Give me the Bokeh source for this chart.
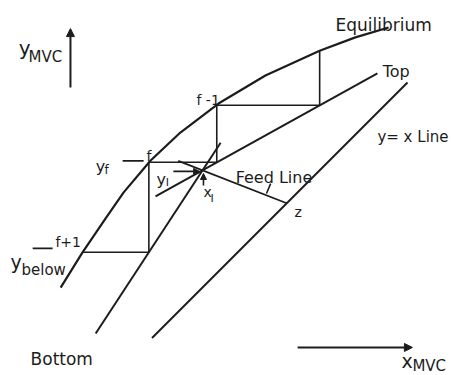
from bokeh.plotting import figure
from bokeh.models import Range1d, Label, Arrow, NormalHead
from bokeh.embed import file_html
from bokeh.resources import INLINE

# ---- data (mole fractions of the more volatile component) ----
eq_x = [0.029, 0.091, 0.157, 0.209, 0.286, 0.371, 0.480, 0.614, 0.769, 0.871, 0.966]
eq_y = [0.434, 0.534, 0.631, 0.706, 0.797, 0.877, 0.960, 1.040, 1.111, 1.149, 1.177]

top_x = [0.300, 0.934]
top_y = [0.695, 1.046]

bot_x = [0.129, 0.486]
bot_y = [0.303, 0.848]

feed_x = [0.365, 0.675]
feed_y = [0.796, 0.675]

diag_x = [0.29, 1.02]
diag_y = [0.29, 1.02]

step_x = [0.769, 0.769, 0.475, 0.475, 0.281, 0.281, 0.092]
step_y = [1.111, 0.955, 0.955, 0.792, 0.792, 0.535, 0.535]

x_I, y_I = 0.434, 0.769
z_feed = 0.675
y_f = 0.792
y_below = 0.535

# ---- layout ----
INK = "#1c1c1c"
FONT = "DejaVu Sans"

p = figure(width=453, height=375,
           x_range=Range1d(-0.1429, 1.1514), y_range=Range1d(0.1829, 1.2543),
           x_axis_type=None, y_axis_type=None,
           output_backend="svg", toolbar_location=None, min_border=0)
p.outline_line_color = None
p.background_fill_color = "white"
p.border_fill_color = "white"

p.line(eq_x, eq_y, line_color=INK, line_width=2.2)
p.line(top_x, top_y, line_color=INK, line_width=2)
p.line(bot_x, bot_y, line_color=INK, line_width=2)
p.line(diag_x, diag_y, line_color=INK, line_width=2)
p.line(feed_x, feed_y, line_color=INK, line_width=1.8)
p.line(step_x, step_y, line_color=INK, line_width=1.6)

# leader dashes
p.multi_line(xs=[[0.206, 0.266], [-0.051, 0.006], [0.617, 0.629]],
             ys=[[y_f + 0.004, y_f + 0.004], [y_below + 0.011, y_below + 0.011], [0.703, 0.731]],
             line_color=INK, line_width=1.6)

def arrow(x0, y0, x1, y1, size=7, lw=1.6):
    p.add_layout(Arrow(end=NormalHead(size=size, fill_color=INK, line_color=INK),
                       x_start=x0, y_start=y0, x_end=x1, y_end=y1,
                       line_color=INK, line_width=lw))

arrow(0.057, 1.006, 0.057, 1.174, size=8, lw=2)     # y_MVC axis arrow
arrow(0.706, 0.263, 1.034, 0.263, size=8, lw=2)     # x_MVC axis arrow
arrow(x_I + 0.003, 0.726, x_I + 0.003, 0.760, size=6)  # x_I
arrow(0.351, y_I - 0.003, 0.426, y_I - 0.003, size=6)  # y_I

def label(x, y, text, size):
    p.add_layout(Label(x=x, y=y, text=text, text_font=FONT,
                       text_font_size=f"{size}px", text_color=INK,
                       text_align="left", text_baseline="alphabetic"))

label(0.814, 1.183, "Equilibrium", 17)
label(0.949, 1.051, "Top", 16)
label(0.934, 0.863, "y= x Line", 15)
label(0.529, 0.749, "Feed Line", 16)
label(-0.057, 0.231, "Bottom", 17)
label(0.417, 0.969, "f -1", 14)
label(0.274, 0.809, "f", 14)
label(0.129, 0.780, "y", 16)
label(0.154, 0.771, "f", 12)
label(0.303, 0.743, "y", 16)
label(0.329, 0.734, "I", 11)
label(0.437, 0.706, "x", 14)
label(0.457, 0.689, "I", 11)
label(0.697, 0.651, "z", 14)
label(0.014, 0.563, "f+1", 14)
label(-0.114, 0.506, "y", 19)
label(-0.083, 0.483, "below", 15)
label(-0.091, 1.120, "y", 20)
label(-0.063, 1.094, "MVC", 15)
label(1.003, 0.225, "x", 19)
label(1.034, 0.209, "MVC", 15)

open("out.html", "w").write(file_html(p, INLINE))
